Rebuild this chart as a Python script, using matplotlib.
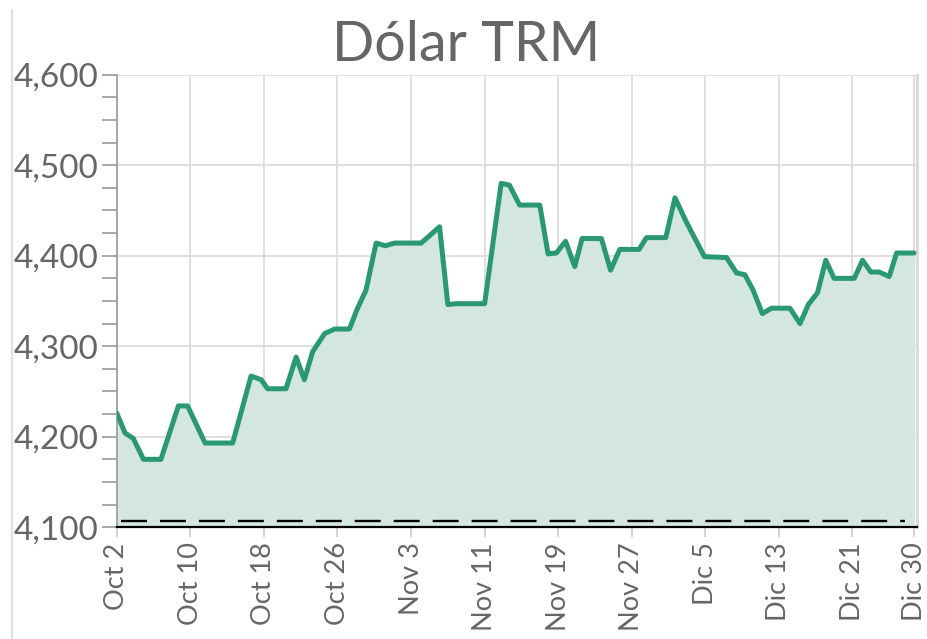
import matplotlib.pyplot as plt
from matplotlib.ticker import MultipleLocator, FuncFormatter

# ── datos (día desde Oct 2, valor TRM)
dias = [0, 0.9, 1.8, 2.9, 4.8, 6.7, 7.7, 9.6, 12.6, 14.6, 15.7, 16.4, 18.4,
        19.5, 20.4, 21.3, 22.6, 23.7, 25.3, 26.1, 27.1, 28.2, 29.2, 30.2,
        33.1, 35.1, 36.0, 36.9, 40.0, 41.8, 42.7, 43.8, 46.0, 46.9, 47.8,
        48.8, 49.8, 50.6, 52.7, 53.7, 54.7, 56.8, 57.6, 59.7, 60.7, 61.9,
        63.9, 66.3, 67.4, 68.3, 69.2, 70.2, 71.2, 73.2, 74.3, 75.2, 76.2,
        77.1, 78.0, 80.2, 81.1, 82.0, 82.9, 84.0, 84.8, 86.7]
trm = [4226, 4204, 4198, 4175, 4175, 4234, 4234, 4193, 4193, 4267, 4263,
       4253, 4253, 4288, 4263, 4294, 4314, 4319, 4319, 4340, 4362, 4414,
       4411, 4414, 4414, 4432, 4346, 4347, 4347, 4480, 4478, 4456, 4456,
       4402, 4403, 4416, 4388, 4419, 4419, 4384, 4407, 4407, 4420, 4420,
       4464, 4438, 4399, 4398, 4381, 4379, 4362, 4336, 4342, 4342, 4325,
       4346, 4359, 4395, 4375, 4375, 4395, 4382, 4382, 4377, 4403, 4403]

tick_pos = [0, 8, 16, 24, 32, 40, 48, 56, 64, 72, 80, 86.7]
tick_lbl = ["Oct 2", "Oct 10", "Oct 18", "Oct 26", "Nov 3", "Nov 11",
            "Nov 19", "Nov 27", "Dic 5", "Dic 13", "Dic 21", "Dic 30"]
referencia = 4107

plt.rcParams["font.family"] = ["Lato", "DejaVu Sans"]
gris = "#666666"

fig = plt.figure(figsize=(9.27, 6.39), dpi=100)
ax = fig.add_axes([0.126, 0.175, 0.863, 0.708])

ax.fill_between(dias, trm, 4100, color="#d3e7df", zorder=1)
ax.plot(dias, trm, color="#2a9870", lw=3.6, solid_joinstyle="round",
        solid_capstyle="round", zorder=3)
ax.axhline(referencia, xmin=0.005, xmax=0.985, color="black", lw=1.7,
           ls=(0, (11, 5.5)), zorder=4)

ax.set_xlim(0, 87)
ax.set_ylim(4100, 4600)

# ---- ejes y marcas
ax.yaxis.set_major_locator(MultipleLocator(100))
ax.yaxis.set_minor_locator(MultipleLocator(25))
ax.yaxis.set_major_formatter(FuncFormatter(lambda v, _: f"{v:,.0f}"))
ax.set_xticks(tick_pos)
ax.set_xticklabels(tick_lbl, rotation=90)

ax.tick_params(axis="y", which="both", length=11, width=1.2, color="#999999",
               labelsize=24, labelcolor=gris, pad=2)
ax.tick_params(axis="x", length=7, width=1.2, color="#cccccc",
               labelsize=19.5, labelcolor=gris, pad=4)

ax.grid(True, which="major", color="#dcdcdc", lw=1.3, zorder=0)
ax.set_axisbelow(True)

ax.spines["top"].set_visible(False)
ax.spines["left"].set_color("#999999")
ax.spines["left"].set_linewidth(1.2)
ax.spines["right"].set_color("#d8d8d8")
ax.spines["right"].set_linewidth(2)
ax.spines["bottom"].set_color("black")
ax.spines["bottom"].set_linewidth(1.6)

fig.text(0.503, 0.905, "Dólar TRM", fontsize=40, color=gris, ha="center",
         va="baseline")

# borde del contenedor
fig.add_artist(plt.Line2D([0.013, 0.013], [0.0, 0.985], color="#e0e0e0", lw=1.5))

fig.savefig("out.png", dpi=100)
